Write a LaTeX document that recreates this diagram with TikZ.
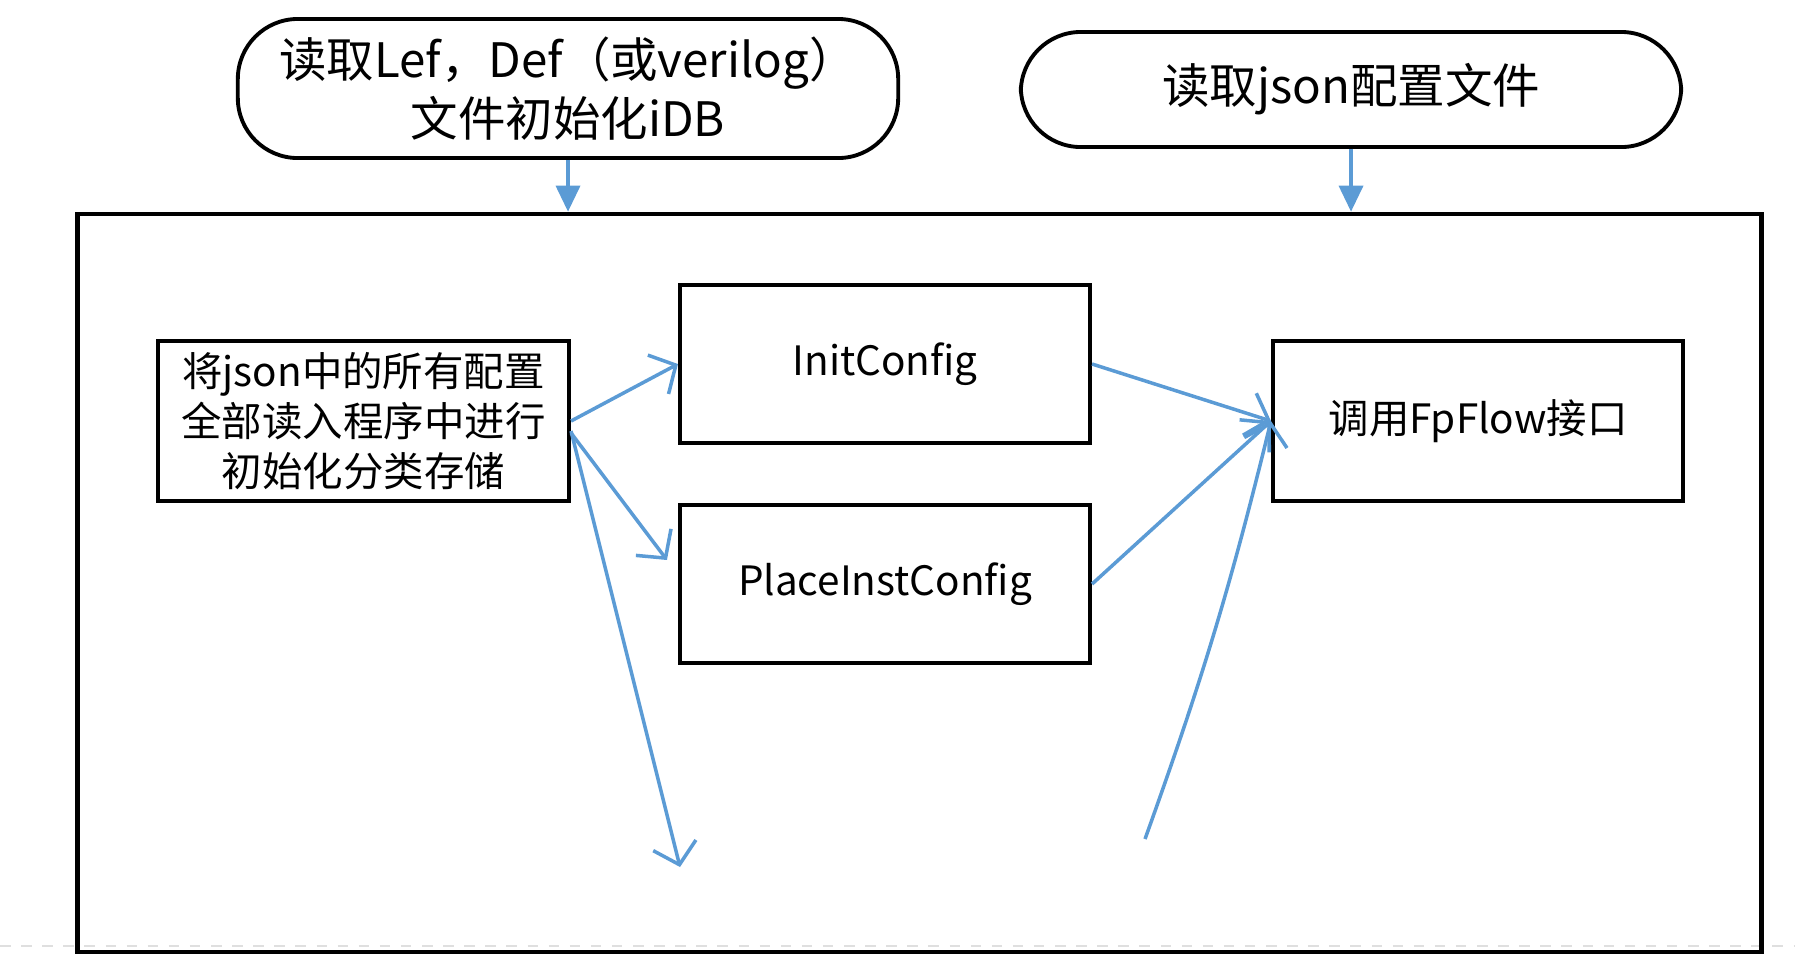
\documentclass[tikz,border=0pt]{standalone}
\usepackage{fontspec}
\setmainfont{Noto Sans CJK SC}
\usepackage{tikz}
\usetikzlibrary{positioning, arrows.meta}
\definecolor{flowblue}{HTML}{5B9BD5}

\begin{document}
\begin{tikzpicture}[
            x=0.01cm, y=-0.01cm,
            node distance=0.58cm and 1.1cm,
            terminal/.style={rectangle, draw, line width=1.1pt, rounded corners=0.6cm, minimum width=6.6cm, align=center, font=\fontsize{13.5}{17}\selectfont},
            block/.style={rectangle, draw, line width=1.1pt, minimum width=4.1cm, minimum height=1.58cm, align=center, font=\fontsize{11.5}{14.2}\selectfont},
            frame/.style={rectangle, draw, line width=1.2pt, minimum width=16.83cm, minimum height=7.38cm},
            feed/.style={-{Triangle[length=2.6mm, width=2.4mm]}, flowblue, line width=1pt},
            arrow/.style={-{Straight Barb[length=2mm, width=4.4mm]}, flowblue, line width=1pt}
        ]
        \useasboundingbox (0,0) rectangle (1795,963);
        \draw[gray!25, dashed, line width=0.8pt] (0,946) -- (1795,946);

        % Define the outer frame and the two inputs
        \node[frame] (frame) at (919.5,583) {};
        \node[terminal, minimum height=1.39cm] (idb) at (568,88.5) {读取Lef，Def（或verilog）\\文件初始化iDB};
        \node[terminal, minimum height=1.15cm] (json) at (1351,89.5) {读取json配置文件};

        % Define the stages inside the frame
        \node[block, minimum width=4.11cm, minimum height=1.6cm] (load) at (363.5,421) {将json中的所有配置\\全部读入程序中进行\\初始化分类存储};
        \node[block] (init) at (885,364) {InitConfig};
        \node[block, below=of init] (place) {PlaceInstConfig};
        \node[block, minimum height=1.6cm] (fpflow) at (1478,421) {调用FpFlow接口};
        \coordinate (lost) at (680,867);
        \coordinate (extra) at (1145,839);

        % Draw the arrows connecting the stages
        \draw[feed] (idb) -- (idb |- frame.north);
        \draw[feed] (json) -- (json |- frame.north);
        \draw[arrow] (load.east) -- (init.west);
        \draw[arrow] ([yshift=-0.12cm]load.east) -- ([xshift=-0.11cm, yshift=0.24cm]place.west);
        \draw[arrow] ([yshift=-0.1cm]load.east) -- (lost);
        \draw[arrow] (init.east) -- (fpflow.west);
        \draw[arrow] (place.east) -- (fpflow.west);
        \draw[arrow] (extra) to[bend right=3] (fpflow.west);
    \end{tikzpicture}
\end{document}
